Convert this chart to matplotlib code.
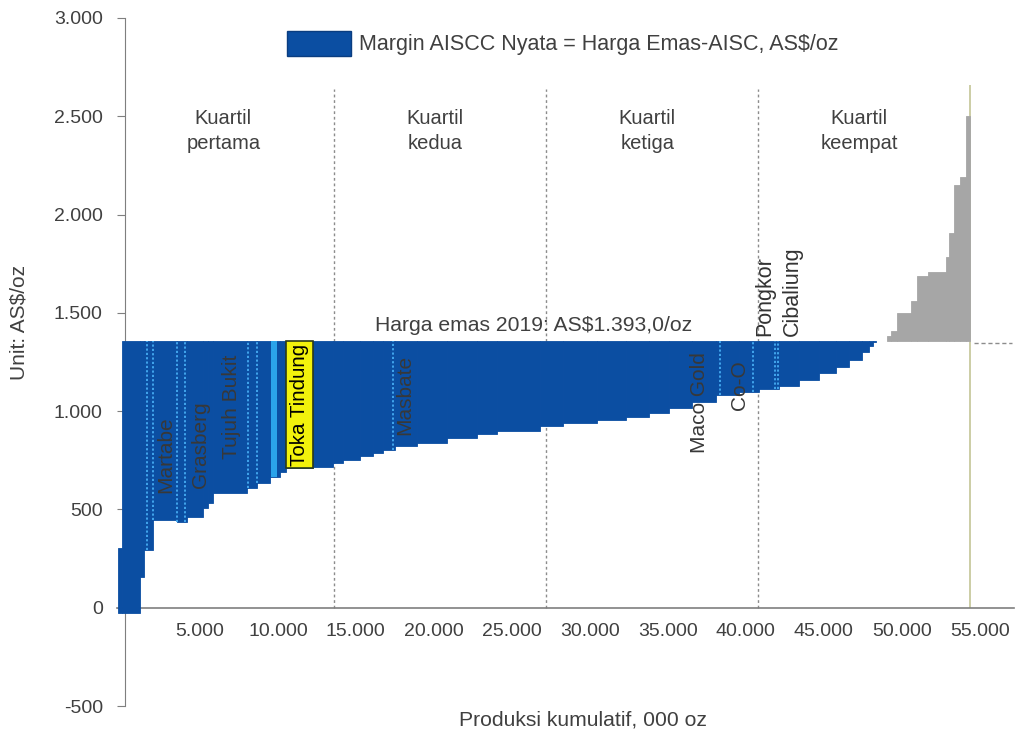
import numpy as np
import matplotlib
matplotlib.use("Agg")
import matplotlib.pyplot as plt
from matplotlib.patches import Patch

plt.rcParams['font.family'] = ['Liberation Sans', 'DejaVu Sans']

# ---------- data ----------
price_text = "Harga emas 2019: AS$1.393,0/oz"
price_level = 1356          # level the curve is drawn to

# small stub left of the first mine
stub_width = 250
stub_low, stub_high = -27, 305

# mines with positive margin (width = production, 000 oz ; AISC, AS$/oz)
blue_width = [1150, 260, 580, 1540, 640, 1020, 320, 320, 2180, 640, 830, 640, 390, 1730,
              1280, 640, 1090, 830, 640, 770, 1410, 1920, 1920, 1280, 2760, 1470, 2180,
              1920, 1470, 1280, 1480, 1540, 1470, 1280, 1280, 1280, 1280, 1090, 830, 830,
              450, 260, 190]
blue_aisc = [-27, 155, 293, 445, 437, 460, 505, 535, 583, 608, 633, 665, 690, 712,
             718, 735, 752, 770, 785, 800, 822, 840, 862, 885, 900, 925, 940,
             955, 970, 990, 1015, 1045, 1080, 1097, 1115, 1130, 1157, 1193, 1225, 1260,
             1300, 1330, 1350]
zero_width = 700            # mines at about zero margin

# mines with negative margin
grey_width = [256, 385, 897, 385, 705, 1154, 192, 320, 385, 385, 256]
grey_aisc = [1380, 1410, 1499, 1561, 1687, 1707, 1784, 1907, 2149, 2190, 2503]

quartile_names = ["Kuartil\npertama", "Kuartil\nkedua", "Kuartil\nketiga", "Kuartil\nkeempat"]

toka_index = 13             # Toka Tindung in blue list
cyan_start, cyan_width = 9550, 380

dotted_x = [1600, 1990, 3530, 4040, 8080, 8650, 17370, 38330, 40450, 41860, 42050]

mine_names = ["Martabe", "Grasberg", "Tujuh Bukit", "Masbate", "Maco Gold", "Co-O"]
mine_x = [2820, 5060, 7050, 18140, 37050, 39620]
mine_y = [777, 827, 1020, 1085, 1045, 1133]
top_names = ["Pongkor", "Cibaliung"]
top_x = [41220, 43010]

xticks = [5000, 10000, 15000, 20000, 25000, 30000, 35000, 40000, 45000, 50000, 55000]
yticks = [-500, 0, 500, 1000, 1500, 2000, 2500, 3000]

blue = "#0b4ea2"
grey = "#a6a6a6"
txt = "#404040"

def fmt(v):
    return f"{v:,.0f}".replace(",", ".")

# ---------- geometry ----------
blue_left = np.concatenate([[0], np.cumsum(blue_width)[:-1]])
blue_end = np.sum(blue_width)
grey_start = blue_end + zero_width
grey_left = grey_start + np.concatenate([[0], np.cumsum(grey_width)[:-1]])
total = grey_start + np.sum(grey_width)

def aisc_at(x):
    i = np.searchsorted(blue_left, x, side="right") - 1
    return blue_aisc[i]

# ---------- plot ----------
fig = plt.figure(figsize=(10.35, 7.34), dpi=100)
ax = fig.add_axes([0.1133, 0.0381, 0.8664, 0.9374])

ax.bar(-stub_width, stub_high - stub_low, stub_width, bottom=stub_low, align="edge",
       color=blue, edgecolor=blue, linewidth=0.6, zorder=3)
ax.bar(blue_left, price_level - np.array(blue_aisc), blue_width, bottom=blue_aisc,
       align="edge", color=blue, edgecolor=blue, linewidth=0.6, zorder=3)
ax.bar(grey_left, np.array(grey_aisc) - price_level, grey_width, bottom=price_level,
       align="edge", color=grey, edgecolor=grey, linewidth=0.6, zorder=3)

# highlighted mines
ax.bar(cyan_start, price_level - aisc_at(cyan_start), cyan_width, bottom=aisc_at(cyan_start),
       align="edge", color="#2aa3ea", linewidth=0, zorder=4)
ax.bar(blue_left[toka_index], price_level - blue_aisc[toka_index], blue_width[toka_index],
       bottom=blue_aisc[toka_index], align="edge", color="#f2f20c", edgecolor="#2b3a1a",
       linewidth=1.2, zorder=4)
ax.text(blue_left[toka_index] + blue_width[toka_index] / 2,
        (price_level + blue_aisc[toka_index]) / 2, "Toka Tindung", rotation=90,
        ha="center", va="center", fontsize=14.8, color="black", zorder=5)

for x in dotted_x:
    ax.vlines(x, aisc_at(x), price_level, colors="#45acf2", linestyles=(0, (1.2, 1.2)),
              lw=1.3, zorder=4)

for name, x, y in zip(mine_names, mine_x, mine_y):
    ax.text(x, y, name, rotation=90, ha="center", va="center", fontsize=15,
            color="#383838", zorder=5)
for name, x in zip(top_names, top_x):
    ax.text(x, price_level + 25, name, rotation=90, ha="center", va="bottom",
            fontsize=15.5, color="#333333", zorder=5)

# quartile lines
for k in range(1, 4):
    ax.vlines(total * k / 4, 0, 2640, colors="#8c8c8c", linestyles=(0, (2, 2)), lw=1, zorder=2)
for k, name in enumerate(quartile_names):
    ax.text(total * (k + 0.5) / 4 - 300, 2425, name, ha="center", va="center", fontsize=14.5,
            color=txt, linespacing=1.35)
ax.vlines(total, 0, 2660, colors="#c4c596", lw=1.2, zorder=2)
ax.hlines(price_level - 8, total + 250, 57100, colors="#8c8c8c", linestyles=(0, (3, 2)), lw=1)

ax.text(total / 2 - 800, price_level + 80, price_text, ha="center", va="center",
        fontsize=15.2, color=txt)

# axes
ax.set_xlim(-300, 57200)
ax.set_ylim(-500, 3000)
ax.spines["top"].set_visible(False)
ax.spines["right"].set_visible(False)
ax.spines["left"].set_position(("data", 200))
ax.spines["bottom"].set_position(("data", 0))
ax.spines["left"].set_color("#7f7f7f")
ax.spines["bottom"].set_color("#7f7f7f")
ax.spines["bottom"].set_linewidth(1.2)

ax.set_xticks(xticks)
ax.set_xticklabels([fmt(v) for v in xticks])
ax.set_yticks(yticks)
ax.set_yticklabels([fmt(v) for v in yticks])
ax.tick_params(axis="x", length=0, pad=11, labelsize=14, labelcolor=txt)
ax.tick_params(axis="y", length=6, color="#7f7f7f", pad=10, labelsize=14, labelcolor=txt)

fig.text(0.018, 0.56, "Unit: AS$/oz", rotation=90, ha="center", va="center",
         fontsize=15, color=txt)
fig.text(0.563, 0.019, "Produksi kumulatif, 000 oz", ha="center", va="center",
         fontsize=15.2, color=txt)

fig.legend(handles=[Patch(facecolor=blue, edgecolor="#0a3d80",
                          label="Margin AISCC Nyata = Harga Emas-AISC, AS$/oz")],
           loc="center left", bbox_to_anchor=(0.277, 0.941), frameon=False,
           fontsize=15.5, handlelength=3.0, handleheight=1.45, handletextpad=0.35,
           borderpad=0, borderaxespad=0, labelcolor=txt)

fig.savefig("out.png", dpi=100)
